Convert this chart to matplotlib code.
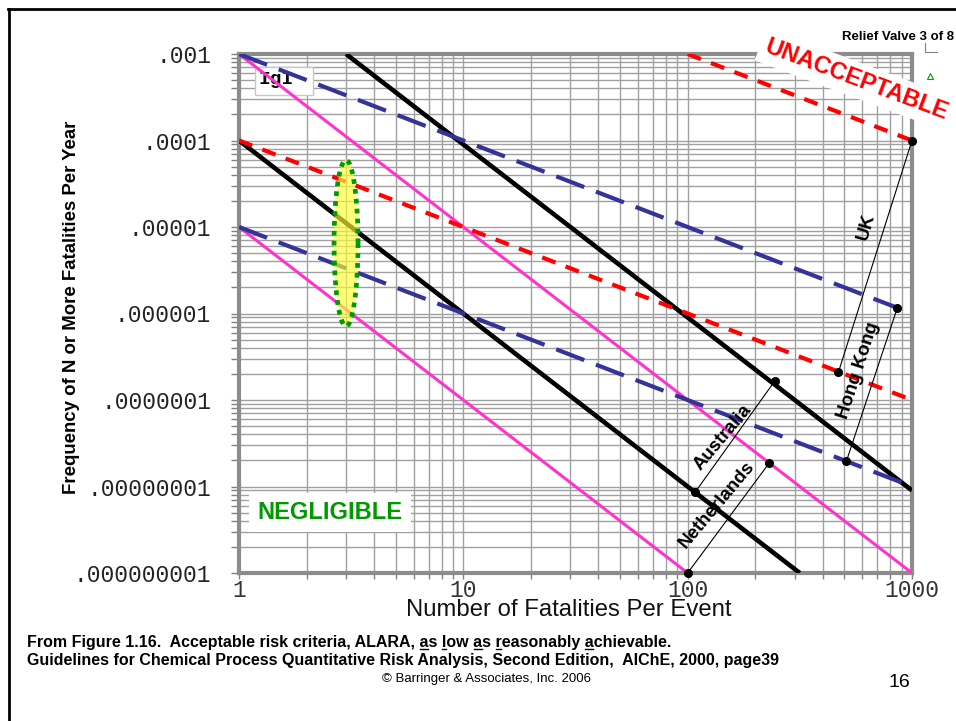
import numpy as np
import matplotlib
matplotlib.use("Agg")
import matplotlib.pyplot as plt
from matplotlib.lines import Line2D
from matplotlib.patches import Rectangle, Polygon
from matplotlib.ticker import LogLocator, NullFormatter

plt.rcParams['font.family'] = ['Liberation Sans', 'DejaVu Sans']

W, H = 956, 721

# axis ticks
y_ticks = [1e-3, 1e-4, 1e-5, 1e-6, 1e-7, 1e-8, 1e-9]
y_tick_labels = ['.001', '.0001', '.00001', '.000001', '.0000001',
                 '.00000001', '.000000001']
x_ticks = [1, 10, 100, 1000]
x_tick_labels = ['1', '10', '100', '1000']

# criteria lines, end points (N, F)
line_names = ['black_hi', 'black_lo', 'pink_hi', 'pink_lo',
              'blue_hi', 'blue_lo', 'red_hi', 'red_lo']
line_n0 = [3.0, 1, 1, 1, 1, 1, 100, 1]
line_n1 = [1000, 316, 1000, 100, 1000, 1000, 1000, 1000]
line_f0 = [1e-3, 1e-4, 1e-3, 1e-5, 1e-3, 1e-5, 1e-3, 1e-4]
line_f1 = [9e-9, 1e-9, 1e-9, 1e-9, 1e-6, 1e-8, 1e-4, 1e-7]

# country criteria callouts
countries = ['UK', 'Hong Kong', 'Australia', 'Netherlands']
country_n = [(1000, 470), (860, 510), (245, 108), (100, 231)]
country_f = [(1e-4, 2.1e-7), (1.16e-6, 1.96e-8), (1.67e-7, 8.6e-9), (1e-9, 1.87e-8)]
label_n = [625, 580, 144, 135]
label_f = [1e-5, 2.2e-7, 3.7e-8, 6.1e-9]
label_rot = [74, 72, 50, 50]

# highlighted region around N = 3 (ellipse in log space)
ell_n, ell_f = 3.0, 6.5e-6
ell_wdec, ell_hdec = 0.0535, 0.96

styles = {
    'black': dict(color='black', lw=3.3, solid_capstyle='butt'),
    'pink': dict(color='#ff33cc', lw=2.2, solid_capstyle='butt'),
    'blue': dict(color='#333399', lw=3.0, dashes=(7.2, 3.0), dash_capstyle='butt'),
    'red': dict(color='#ff0000', lw=3.0, dashes=(3.4, 2.6), dash_capstyle='butt'),
}


def px(x, y):
    return x / W, 1 - y / H


fig = plt.figure(figsize=(W / 100, H / 100), dpi=100)
ax = fig.add_axes([239 / W, 1 - 573 / H, (912 - 239) / W, (573 - 54) / H])
ax.set_xscale('log')
ax.set_yscale('log')
ax.set_xlim(1, 1000)
ax.set_ylim(1e-9, 1e-3)

ax.xaxis.set_minor_locator(LogLocator(base=10, subs=np.arange(2, 10), numticks=30))
ax.yaxis.set_minor_locator(LogLocator(base=10, subs=np.arange(2, 10), numticks=30))
ax.xaxis.set_minor_formatter(NullFormatter())
ax.yaxis.set_minor_formatter(NullFormatter())
ax.set_xticks(x_ticks, x_tick_labels)
ax.set_yticks(y_ticks, y_tick_labels)
ax.grid(which='both', color='#a0a0a0', lw=1.0)
ax.set_axisbelow(True)

ax.tick_params(axis='y', which='both', direction='out', length=6, width=1,
               color='#808080', pad=14, labelsize=16.5, labelcolor='#222222')
ax.tick_params(axis='x', which='both', direction='out', length=4, width=1,
               color='#808080', pad=0, labelsize=16.5, labelcolor='#333333')
for lab in ax.get_xticklabels() + ax.get_yticklabels():
    lab.set_family('Liberation Mono')
for sp in ax.spines.values():
    sp.set_color('#8c8c8c')
    sp.set_linewidth(3)

# IgI box (behind the lines)
ax.add_patch(Rectangle(((255 - 239) / 673, (573 - 95) / 519), 58 / 673, 28 / 519,
                       transform=ax.transAxes, fc='white', ec='#c8c8c8', lw=1, zorder=1.5))
ax.text((259 - 239) / 673, (573 - 80) / 519, 'IgI', transform=ax.transAxes,
        family='Liberation Mono', weight='bold', size=14, va='center', zorder=1.6)

# criteria lines
for name, n0, n1, f0, f1 in zip(line_names, line_n0, line_n1, line_f0, line_f1):
    kind = name.split('_')[0]
    ax.plot([n0, n1], [f0, f1], zorder=3, **styles[kind])

# ellipse highlight
t = np.linspace(0, 2 * np.pi, 300)
en = 10 ** (np.log10(ell_n) + ell_wdec * np.cos(t))
ef = 10 ** (np.log10(ell_f) + ell_hdec * np.sin(t))
ax.add_patch(Polygon(np.column_stack([en, ef]), closed=True, fc='#ffff33', alpha=0.65,
                     ec='none', zorder=4))
ax.plot(en, ef, color='#009900', lw=3.4, dashes=(1, 1.1), dash_capstyle='butt', zorder=4.5)

# country callouts
for name, nn, ff, ln, lf, rot in zip(countries, country_n, country_f, label_n, label_f, label_rot):
    ax.plot(nn, ff, color='black', lw=0.8, zorder=5, clip_on=False)
    ax.plot(nn, ff, 'o', color='black', ms=5.5, zorder=5.5, clip_on=False)
    ax.text(ln, lf, name, rotation=rot, rotation_mode='anchor', ha='center', va='center',
            weight='bold', size=13.5, zorder=6)

# region labels
fig.text(*px(857, 80), 'UNACCEPTABLE', rotation=-20.5, rotation_mode='anchor',
         ha='center', va='center', color='#ff0000', weight='bold', size=17,
         bbox=dict(boxstyle='square,pad=0.25', fc='white', ec='none'), zorder=10)
fig.text(*px(330, 512.5), 'NEGLIGIBLE', ha='center', va='center', color='#009900',
         weight='bold', size=17,
         bbox=dict(boxstyle='square,pad=0.35', fc='white', ec='none'), zorder=10)

# axis titles
fig.text(*px(569, 616.5), 'Number of Fatalities Per Event', ha='center', va='baseline',
         size=17.2, color='#111111')
fig.text(*px(72, 307), 'Frequency of N or More Fatalities Per Year', rotation=90,
         ha='center', va='center', weight='bold', size=13.4)

# slide furniture
fig.text(*px(842, 37), 'Relief Valve 3 of 8', ha='left', va='center', weight='bold', size=9.5)
fig.add_artist(Line2D([925 / W, 925 / W, 937 / W], [1 - 43 / H, 1 - 52 / H, 1 - 52 / H],
                      color='#808080', lw=0.8))
fig.add_artist(Line2D([930 / W], [1 - 76 / H], marker='^', ms=5, mfc='none', mec='#009900',
                      mew=0.8, ls='none'))
fig.add_artist(Line2D([8 / W, 1], [1 - 8.5 / H, 1 - 8.5 / H], color='black', lw=2))
fig.add_artist(Line2D([8.5 / W, 8.5 / W], [0, 1 - 8.5 / H], color='black', lw=2))

cap1 = 'From Figure 1.16.  Acceptable risk criteria, ALARA, as low as reasonably achievable.'
cap2 = 'Guidelines for Chemical Process Quantitative Risk Analysis, Second Edition,  AIChE, 2000, page39'
cap_kw = dict(ha='left', va='baseline', weight='bold', size=11.5)
fig.text(*px(27, 646.5), cap1, **cap_kw)
fig.text(*px(27, 665.5), cap2, **cap_kw)

# underline the A-L-A-R-A initials
renderer = fig.canvas.get_renderer()
under_idx = [cap1.index('as low'), cap1.index('low as'), cap1.index('as reasonably'),
             cap1.index('reasonably'), cap1.index('achievable')]
for i in under_idx:
    t0 = fig.text(*px(27, 646.5), cap1[:i], **cap_kw)
    t1 = fig.text(*px(27, 646.5), cap1[:i + 1], **cap_kw)
    x0 = t0.get_window_extent(renderer).x1
    x1 = t1.get_window_extent(renderer).x1
    t0.remove()
    t1.remove()
    fig.add_artist(Line2D([x0 / W + 0.0005, x1 / W - 0.0005], [1 - 649 / H] * 2,
                          color='black', lw=1.0))

fig.text(*px(486, 682), '\u00a9 Barringer & Associates, Inc. 2006', ha='center',
         va='baseline', size=9.5)
fig.text(*px(899, 687), '16', ha='center', va='baseline', size=14)

fig.savefig('out.png', dpi=100)
